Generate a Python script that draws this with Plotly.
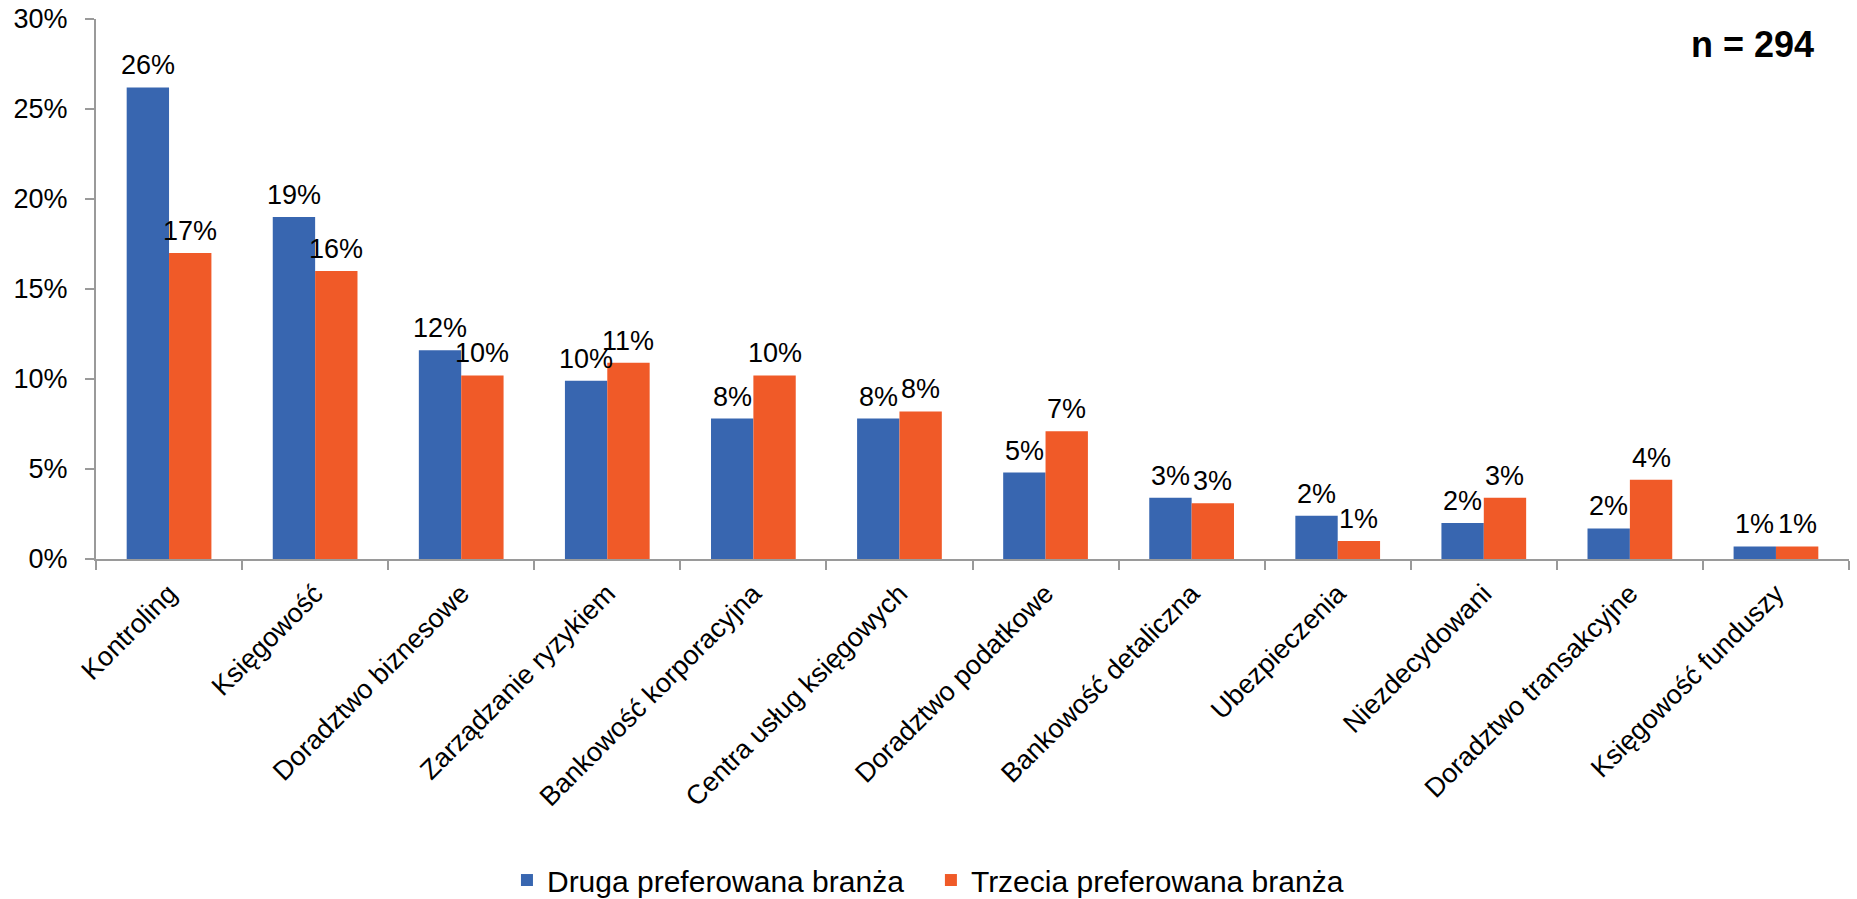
import plotly.graph_objects as go

categories = ["Kontroling", "Księgowość", "Doradztwo biznesowe", "Zarządzanie ryzykiem",
              "Bankowość korporacyjna", "Centra usług księgowych", "Doradztwo podatkowe",
              "Bankowość detaliczna", "Ubezpieczenia", "Niezdecydowani",
              "Doradztwo transakcyjne", "Księgowość funduszy"]
druga = [26.2, 19.0, 11.6, 9.9, 7.8, 7.8, 4.8, 3.4, 2.4, 2.0, 1.7, 0.7]
trzecia = [17.0, 16.0, 10.2, 10.9, 10.2, 8.2, 7.1, 3.1, 1.0, 3.4, 4.4, 0.7]
series_names = ["Druga preferowana branża", "Trzecia preferowana branża"]
y_ticks = [0, 5, 10, 15, 20, 25, 30]
y_tick_labels = ["0%", "5%", "10%", "15%", "20%", "25%", "30%"]
note = "n = 294"

BLUE = "#3866B0"
ORANGE = "#F05A28"
FONT = "Liberation Sans, Arial, sans-serif"
AXIS = "#9a9a9a"

fig = go.Figure()
fig.add_trace(go.Bar(x=categories, y=druga, name=series_names[0], marker_color=BLUE,
                     marker_line_width=0, legend="legend"))
fig.add_trace(go.Bar(x=categories, y=trzecia, name=series_names[1], marker_color=ORANGE,
                     marker_line_width=0, legend="legend2"))

annotations = []
for vals, shift in ((druga, -21.2), (trzecia, 21.2)):
    for c, v in zip(categories, vals):
        annotations.append(dict(x=c, y=v, xref="x", yref="y", text=f"{v:.0f}%",
                                showarrow=False, xanchor="center", yanchor="bottom",
                                xshift=shift, yshift=5,
                                font=dict(family=FONT, size=27, color="#000")))
annotations.append(dict(x=0.981, y=0.952, xref="paper", yref="paper", text=f"<b>{note}</b>",
                        showarrow=False, xanchor="right", yanchor="middle",
                        font=dict(family=FONT, size=36, color="#000")))

legend_common = dict(orientation="h", xref="container", yref="container",
                     xanchor="left", y=0.0211, yanchor="middle",
                     font=dict(family=FONT, size=30, color="#000"), itemwidth=30,
                     bgcolor="rgba(0,0,0,0)")

fig.update_layout(
    width=1857, height=899,
    margin=dict(l=96, r=8, t=19, b=340, autoexpand=False),
    paper_bgcolor="white", plot_bgcolor="white",
    barmode="group", bargap=0.42, bargroupgap=0,
    font=dict(family=FONT, size=27, color="#000"),
    showlegend=True,
    legend=dict(x=0.2730, **legend_common),
    legend2=dict(x=0.5013, **legend_common),
    annotations=annotations,
)
fig.update_xaxes(type="category", showline=True, linecolor=AXIS, linewidth=2,
                 ticks="outside", tickson="boundaries", ticklen=9, tickwidth=2, tickcolor=AXIS,
                 tickangle=-45, showgrid=False, automargin=False, ticklabelstandoff=6,
                 ticklabeloverflow="allow",
                 tickfont=dict(family=FONT, size=27, color="#000"))
fig.update_yaxes(range=[0, 30], tickvals=y_ticks, ticktext=y_tick_labels, showline=True,
                 linecolor=AXIS, linewidth=2, ticks="outside", ticklen=9, tickwidth=2,
                 tickcolor=AXIS, showgrid=False, zeroline=False, ticklabelstandoff=12,
                 ticklabeloverflow="allow",
                 automargin=False, tickfont=dict(family=FONT, size=27, color="#000"))

fig.write_html("out.html", config={"displayModeBar": False},
               post_script="document.body.style.margin='0';document.body.style.overflow='hidden';")
